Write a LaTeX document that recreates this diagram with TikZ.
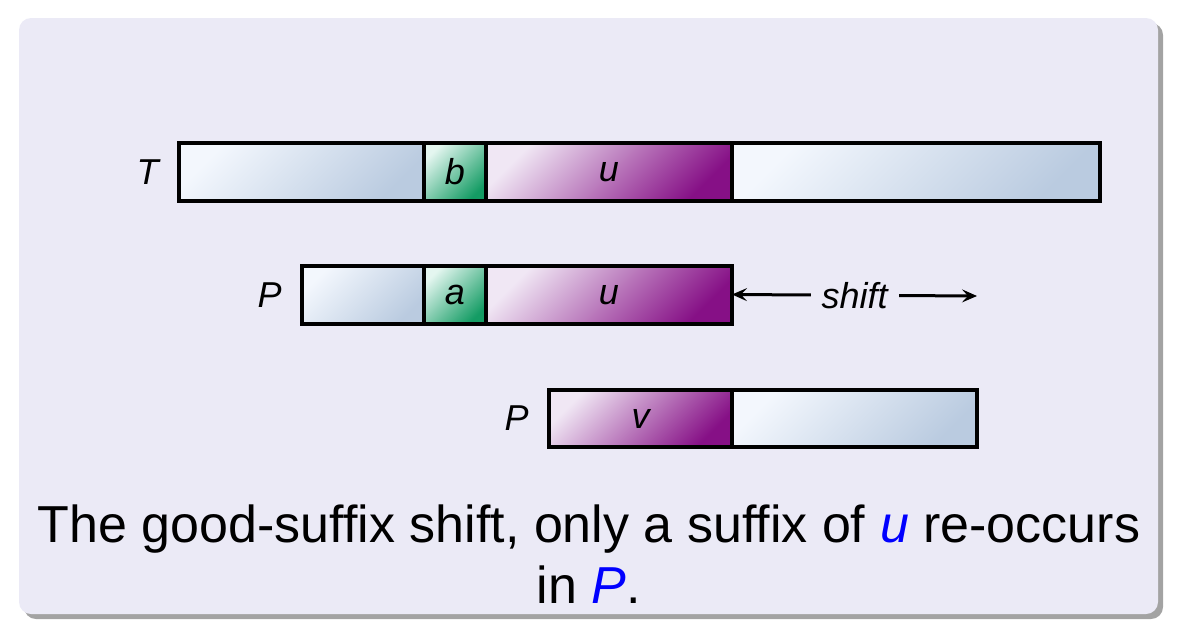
\documentclass[tikz,border=0pt]{standalone}
\usepackage{fontspec}
\setmainfont{Liberation Sans}
\usetikzlibrary{positioning, shadows, arrows.meta}

\definecolor{slidebg}{RGB}{235,234,246}
\definecolor{blueA}{RGB}{243,247,253}
\definecolor{blueB}{RGB}{186,203,224}
\definecolor{greenA}{RGB}{228,246,240}
\definecolor{greenB}{RGB}{20,156,100}
\definecolor{purpA}{RGB}{240,231,244}
\definecolor{purpB}{RGB}{134,16,134}

\tikzset{
  seg/.style={draw, line width=2pt, minimum height=29pt, inner sep=0pt,
    outer sep=0pt, font=\fontsize{18}{20}\selectfont\itshape},
  bluebox/.style={seg, top color=blueA, bottom color=blueB, shading angle=45},
  greenbox/.style={seg, top color=greenA, bottom color=greenB, shading angle=45},
  purpbox/.style={seg, top color=purpA, bottom color=purpB, shading angle=45},
  lbl/.style={inner sep=0pt, font=\fontsize{18}{20}\selectfont\itshape},
  capt/.style={anchor=base, inner sep=0pt, font=\fontsize{26}{30}\selectfont}
}

\begin{document}
\begin{tikzpicture}[x=0.5pt, y=-0.5pt, >={Stealth[length=7.5pt, width=6.5pt, inset=3pt]}]
  \useasboundingbox (0,0) rectangle (1177,627);

  % slide background
  \fill[slidebg, rounded corners=6pt,
    drop shadow={shadow xshift=2.5pt, shadow yshift=-2.5pt, opacity=0.6, fill=black!60}]
    (19,18) rectangle (1158,614);

  % text T
  \node[bluebox, minimum width=122.5pt, anchor=west] (t1) at (179,172) {};
  \node[greenbox, minimum width=31pt, right=0pt of t1] (tb) {b};
  \node[purpbox, minimum width=123pt, right=0pt of tb] (tu) {u};
  \node[bluebox, minimum width=184pt, right=0pt of tu] (t2) {};
  \node[lbl, left=10pt of t1] (tlbl) {T};

  % pattern P, aligned
  \node[bluebox, minimum width=61pt, anchor=west] (p1) at (302,295) {};
  \node[greenbox, minimum width=31pt, right=0pt of p1] (pa) {a};
  \node[purpbox, minimum width=123pt, right=0pt of pa] (pu) {u};
  \node[lbl, left=10pt of p1] (plbl) {P};

  % shift arrow
  \coordinate (shiftend) at (977,296);
  \draw[<->, line width=1.5pt] (pu.east) ++(0,-0.5) -- node[lbl, fill=slidebg, inner sep=5.5pt] (shifttxt) {shift} (shiftend);

  % pattern P, shifted
  \node[purpbox, minimum width=91.5pt, minimum height=28.5pt, anchor=west] (q1) at (549,418.5) {v};
  \node[bluebox, minimum width=122.5pt, minimum height=28.5pt, right=0pt of q1] (q2) {};
  \node[lbl, left=10pt of q1] (qlbl) {P};

  % caption
  \node[capt] (cap1) at (589,542) {The good-suffix shift, only a suffix of \textcolor{blue}{\itshape u} re-occurs};
  \node[capt] (cap2) at (589,603) {in \textcolor{blue}{\itshape P}.};
\end{tikzpicture}
\end{document}
